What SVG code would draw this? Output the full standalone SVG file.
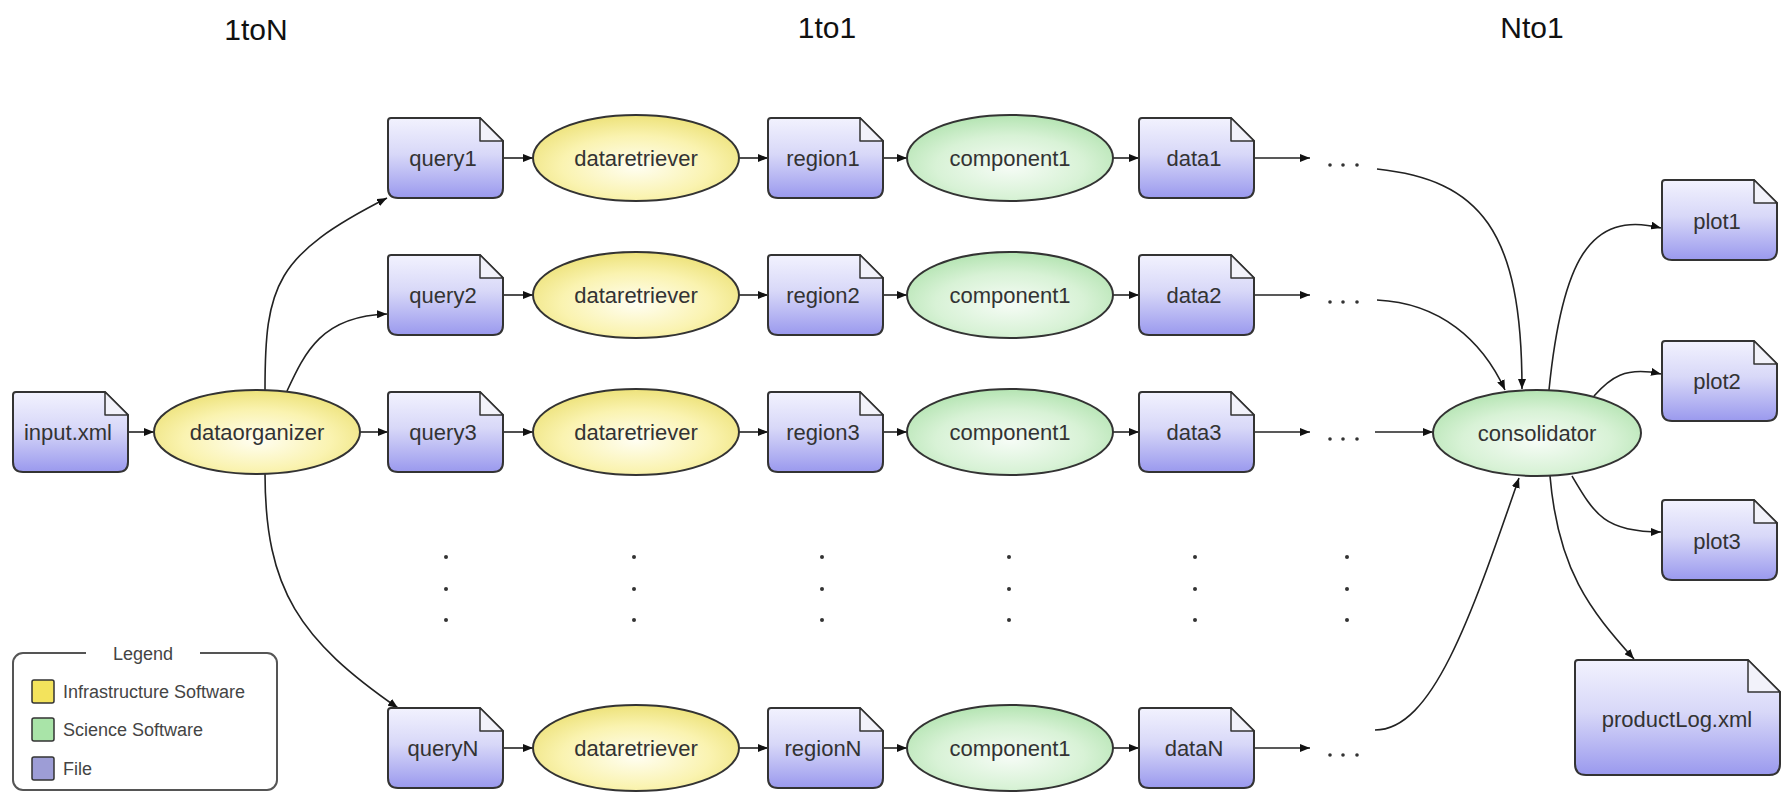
<svg xmlns="http://www.w3.org/2000/svg" xmlns:xlink="http://www.w3.org/1999/xlink" width="1783" height="792" viewBox="0 0 1783 792">
<style>
  text{font-family:"Liberation Sans",Arial,sans-serif;}
  .title{font-size:30px;fill:#111;text-anchor:middle;}
  .lbl{font-size:22px;fill:#333;text-anchor:middle;dominant-baseline:central;}
  .file{fill:url(#gFile);stroke:#333;stroke-width:2;}
  .fold{fill:#f2f2fa;stroke:#333;stroke-width:1.5;stroke-linejoin:round;}
  .infra{fill:url(#gInfra);stroke:#333;stroke-width:2;}
  .sci{fill:url(#gSci);stroke:#333;stroke-width:2;}
  .edge{fill:none;stroke:#222;stroke-width:1.6;marker-end:url(#arr);}
  .dot{fill:#333;}
  .leg{font-size:18px;fill:#444;}
</style>
<defs>
  <linearGradient id="gFile" x1="0" y1="0" x2="0" y2="1">
    <stop offset="0" stop-color="#f2f2fe"/>
    <stop offset="0.45" stop-color="#d8d8f8"/>
    <stop offset="1" stop-color="#9a99ee"/>
  </linearGradient>
  <radialGradient id="gInfra" cx="0.5" cy="0.6" r="0.6">
    <stop offset="0" stop-color="#fffef2"/>
    <stop offset="0.6" stop-color="#faf3b0"/>
    <stop offset="1" stop-color="#ede27a"/>
  </radialGradient>
  <radialGradient id="gSci" cx="0.5" cy="0.6" r="0.6">
    <stop offset="0" stop-color="#f6fcf6"/>
    <stop offset="0.6" stop-color="#d8f2d6"/>
    <stop offset="1" stop-color="#b4e4b2"/>
  </radialGradient>
  <marker id="arr" viewBox="0 0 10 8" refX="10" refY="4" markerWidth="10" markerHeight="8" markerUnits="userSpaceOnUse" orient="auto">
    <path d="M0,0 L10,4 L0,8 Z" fill="#111"/>
  </marker>
  <path id="fileS" d="M3,0 H92 L115,23 V70 Q115,80 105,80 H10 Q0,80 0,70 V3 Q0,0 3,0 Z"/>
  <path id="foldS" d="M92,0 V23 H115 Z"/>
</defs>

<g id="titles">
  <text class="title" x="256" y="40">1toN</text>
  <text class="title" x="827" y="38">1to1</text>
  <text class="title" x="1532" y="38">Nto1</text>
</g>

<g id="connectors">
  <line class="edge" x1="127" y1="432" x2="154" y2="432"/>
  <line class="edge" x1="360" y1="432" x2="388" y2="432"/>
  <path class="edge" d="M265,390 C265,285 275,255 387,198"/>
  <path class="edge" d="M287,391 C305,352 322,316 387,314"/>
  <path class="edge" d="M265,473 C265,590 300,640 398,708"/>
  <!-- rows -->
  <g>
    <line class="edge" x1="503" y1="158" x2="533" y2="158"/>
    <line class="edge" x1="739" y1="158" x2="768" y2="158"/>
    <line class="edge" x1="882" y1="158" x2="907" y2="158"/>
    <line class="edge" x1="1113" y1="158" x2="1139" y2="158"/>
    <line class="edge" x1="1253" y1="158" x2="1310" y2="158"/>
  </g>
  <g>
    <line class="edge" x1="503" y1="295" x2="533" y2="295"/>
    <line class="edge" x1="739" y1="295" x2="768" y2="295"/>
    <line class="edge" x1="882" y1="295" x2="907" y2="295"/>
    <line class="edge" x1="1113" y1="295" x2="1139" y2="295"/>
    <line class="edge" x1="1253" y1="295" x2="1310" y2="295"/>
  </g>
  <g>
    <line class="edge" x1="503" y1="432" x2="533" y2="432"/>
    <line class="edge" x1="739" y1="432" x2="768" y2="432"/>
    <line class="edge" x1="882" y1="432" x2="907" y2="432"/>
    <line class="edge" x1="1113" y1="432" x2="1139" y2="432"/>
    <line class="edge" x1="1253" y1="432" x2="1310" y2="432"/>
  </g>
  <g>
    <line class="edge" x1="503" y1="748" x2="533" y2="748"/>
    <line class="edge" x1="739" y1="748" x2="768" y2="748"/>
    <line class="edge" x1="882" y1="748" x2="907" y2="748"/>
    <line class="edge" x1="1113" y1="748" x2="1139" y2="748"/>
    <line class="edge" x1="1253" y1="748" x2="1310" y2="748"/>
  </g>
  <!-- into consolidator -->
  <path class="edge" d="M1377,169 C1480,180 1522,230 1522,389"/>
  <path class="edge" d="M1377,300 C1440,303 1482,340 1505,390"/>
  <line class="edge" x1="1375" y1="432" x2="1433" y2="432"/>
  <path class="edge" d="M1375,730 C1432,730 1470,620 1519,478"/>
  <!-- out of consolidator -->
  <path class="edge" d="M1549,390 C1562,260 1590,210 1661,228"/>
  <path class="edge" d="M1594,396 C1610,378 1625,366 1661,374"/>
  <path class="edge" d="M1572,476 C1595,515 1605,532 1661,532"/>
  <path class="edge" d="M1550,476 C1558,570 1590,610 1634,659"/>
</g>

<g id="dots">
  <g class="dot">
    <circle cx="1330" cy="165" r="1.8"/><circle cx="1343" cy="165" r="1.8"/><circle cx="1357" cy="165" r="1.8"/>
    <circle cx="1330" cy="302" r="1.8"/><circle cx="1343" cy="302" r="1.8"/><circle cx="1357" cy="302" r="1.8"/>
    <circle cx="1330" cy="439" r="1.8"/><circle cx="1343" cy="439" r="1.8"/><circle cx="1357" cy="439" r="1.8"/>
    <circle cx="1330" cy="755" r="1.8"/><circle cx="1343" cy="755" r="1.8"/><circle cx="1357" cy="755" r="1.8"/>
  </g>
  <g class="dot">
    <circle cx="446" cy="557" r="2"/><circle cx="446" cy="589" r="2"/><circle cx="446" cy="620" r="2"/>
    <circle cx="634" cy="557" r="2"/><circle cx="634" cy="589" r="2"/><circle cx="634" cy="620" r="2"/>
    <circle cx="822" cy="557" r="2"/><circle cx="822" cy="589" r="2"/><circle cx="822" cy="620" r="2"/>
    <circle cx="1009" cy="557" r="2"/><circle cx="1009" cy="589" r="2"/><circle cx="1009" cy="620" r="2"/>
    <circle cx="1195" cy="557" r="2"/><circle cx="1195" cy="589" r="2"/><circle cx="1195" cy="620" r="2"/>
    <circle cx="1347" cy="557" r="2"/><circle cx="1347" cy="589" r="2"/><circle cx="1347" cy="620" r="2"/>
  </g>
</g>

<g id="input"><use href="#fileS" class="file" x="13" y="392"/><use href="#foldS" class="fold" x="13" y="392"/><text class="lbl" x="68" y="432">input.xml</text></g>
<g id="dataorganizer"><ellipse class="infra" cx="257" cy="432" rx="103" ry="42"/><text class="lbl" x="257" y="432">dataorganizer</text></g>

<g id="query1"><use href="#fileS" class="file" x="388" y="118"/><use href="#foldS" class="fold" x="388" y="118"/><text class="lbl" x="443" y="158">query1</text></g>
<g id="dataretriever1"><ellipse class="infra" cx="636" cy="158" rx="103" ry="43"/><text class="lbl" x="636" y="158">dataretriever</text></g>
<g id="region1"><use href="#fileS" class="file" x="768" y="118"/><use href="#foldS" class="fold" x="768" y="118"/><text class="lbl" x="823" y="158">region1</text></g>
<g id="component1a"><ellipse class="sci" cx="1010" cy="158" rx="103" ry="43"/><text class="lbl" x="1010" y="158">component1</text></g>
<g id="data1"><use href="#fileS" class="file" x="1139" y="118"/><use href="#foldS" class="fold" x="1139" y="118"/><text class="lbl" x="1194" y="158">data1</text></g>

<g id="query2"><use href="#fileS" class="file" x="388" y="255"/><use href="#foldS" class="fold" x="388" y="255"/><text class="lbl" x="443" y="295">query2</text></g>
<g id="dataretriever2"><ellipse class="infra" cx="636" cy="295" rx="103" ry="43"/><text class="lbl" x="636" y="295">dataretriever</text></g>
<g id="region2"><use href="#fileS" class="file" x="768" y="255"/><use href="#foldS" class="fold" x="768" y="255"/><text class="lbl" x="823" y="295">region2</text></g>
<g id="component1b"><ellipse class="sci" cx="1010" cy="295" rx="103" ry="43"/><text class="lbl" x="1010" y="295">component1</text></g>
<g id="data2"><use href="#fileS" class="file" x="1139" y="255"/><use href="#foldS" class="fold" x="1139" y="255"/><text class="lbl" x="1194" y="295">data2</text></g>

<g id="query3"><use href="#fileS" class="file" x="388" y="392"/><use href="#foldS" class="fold" x="388" y="392"/><text class="lbl" x="443" y="432">query3</text></g>
<g id="dataretriever3"><ellipse class="infra" cx="636" cy="432" rx="103" ry="43"/><text class="lbl" x="636" y="432">dataretriever</text></g>
<g id="region3"><use href="#fileS" class="file" x="768" y="392"/><use href="#foldS" class="fold" x="768" y="392"/><text class="lbl" x="823" y="432">region3</text></g>
<g id="component1c"><ellipse class="sci" cx="1010" cy="432" rx="103" ry="43"/><text class="lbl" x="1010" y="432">component1</text></g>
<g id="data3"><use href="#fileS" class="file" x="1139" y="392"/><use href="#foldS" class="fold" x="1139" y="392"/><text class="lbl" x="1194" y="432">data3</text></g>

<g id="queryN"><use href="#fileS" class="file" x="388" y="708"/><use href="#foldS" class="fold" x="388" y="708"/><text class="lbl" x="443" y="748">queryN</text></g>
<g id="dataretrieverN"><ellipse class="infra" cx="636" cy="748" rx="103" ry="43"/><text class="lbl" x="636" y="748">dataretriever</text></g>
<g id="regionN"><use href="#fileS" class="file" x="768" y="708"/><use href="#foldS" class="fold" x="768" y="708"/><text class="lbl" x="823" y="748">regionN</text></g>
<g id="component1N"><ellipse class="sci" cx="1010" cy="748" rx="103" ry="43"/><text class="lbl" x="1010" y="748">component1</text></g>
<g id="dataN"><use href="#fileS" class="file" x="1139" y="708"/><use href="#foldS" class="fold" x="1139" y="708"/><text class="lbl" x="1194" y="748">dataN</text></g>

<g id="consolidator"><ellipse class="sci" cx="1537" cy="433" rx="104" ry="43"/><text class="lbl" x="1537" y="433">consolidator</text></g>

<g id="plot1"><use href="#fileS" class="file" x="1662" y="180"/><use href="#foldS" class="fold" x="1662" y="180"/><text class="lbl" x="1717" y="221">plot1</text></g>
<g id="plot2"><use href="#fileS" class="file" x="1662" y="341"/><use href="#foldS" class="fold" x="1662" y="341"/><text class="lbl" x="1717" y="381">plot2</text></g>
<g id="plot3"><use href="#fileS" class="file" x="1662" y="500"/><use href="#foldS" class="fold" x="1662" y="500"/><text class="lbl" x="1717" y="541">plot3</text></g>

<g id="productLog">
  <path class="file" d="M1578,660 H1748 L1780,692 V764 Q1780,775 1769,775 H1586 Q1575,775 1575,764 V663 Q1575,660 1578,660 Z"/>
  <path class="fold" d="M1748,660 V692 H1780 Z"/>
  <text class="lbl" x="1677" y="719">productLog.xml</text>
</g>

<g id="legend">
  <rect x="13" y="653" width="264" height="137" rx="10" fill="none" stroke="#555" stroke-width="2"/>
  <rect x="86" y="645" width="114" height="16" fill="#fff"/>
  <text class="leg" x="143" y="660" text-anchor="middle">Legend</text>
  <rect x="32" y="680" width="22" height="23" rx="2" fill="#f3e35c" stroke="#333" stroke-width="1.5"/>
  <text class="leg" x="63" y="698">Infrastructure Software</text>
  <rect x="32" y="718" width="22" height="23" rx="2" fill="#a9e4a8" stroke="#333" stroke-width="1.5"/>
  <text class="leg" x="63" y="736">Science Software</text>
  <rect x="32" y="757" width="22" height="23" rx="2" fill="#9d9dd6" stroke="#333" stroke-width="1.5"/>
  <text class="leg" x="63" y="775">File</text>
</g>
</svg>
